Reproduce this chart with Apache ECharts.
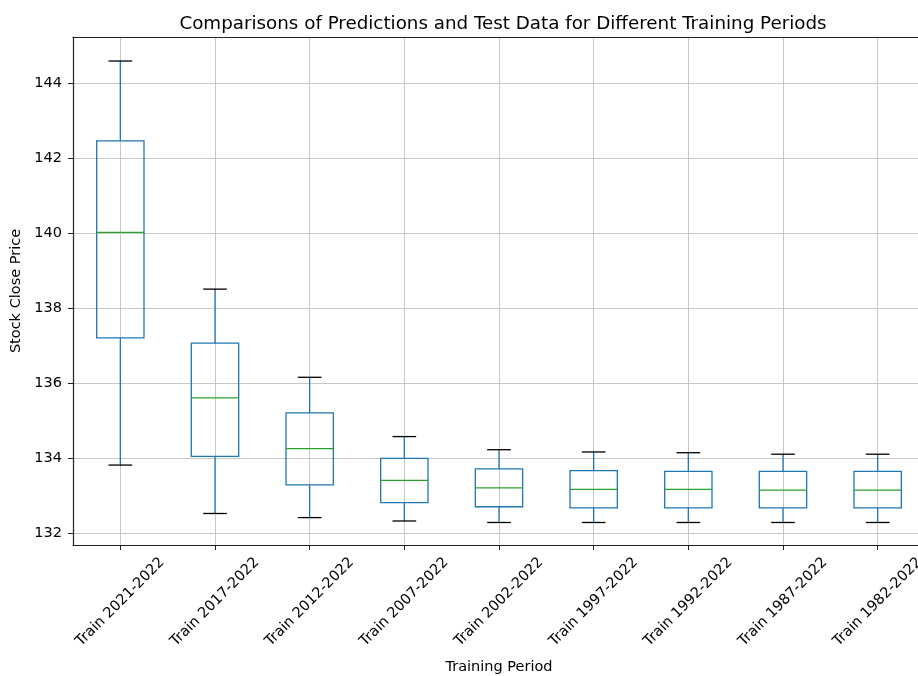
<!DOCTYPE html>
<html>
<head>
<meta charset="utf-8">
<script src="https://cdn.jsdelivr.net/npm/echarts@6/dist/echarts.min.js"></script>
<style>
html,body{margin:0;padding:0;background:#fff;}
#chart{width:918px;height:676px;}
</style>
</head>
<body>
<div id="chart"></div>
<script>
const categories = ['Train 2021-2022','Train 2017-2022','Train 2012-2022','Train 2007-2022','Train 2002-2022','Train 1997-2022','Train 1992-2022','Train 1987-2022','Train 1982-2022'];
const lowerWhisker = [133.81, 132.52, 132.41, 132.32, 132.28, 132.28, 132.28, 132.28, 132.28];
const q1Values     = [137.20, 134.04, 133.28, 132.81, 132.70, 132.67, 132.67, 132.67, 132.67];
const medianValues = [140.01, 135.60, 134.25, 133.40, 133.20, 133.16, 133.16, 133.14, 133.14];
const q3Values     = [142.45, 137.06, 135.20, 133.99, 133.71, 133.66, 133.64, 133.64, 133.64];
const upperWhisker = [144.58, 138.50, 136.15, 134.57, 134.22, 134.16, 134.14, 134.10, 134.10];
const yTickValues = [132, 134, 136, 138, 140, 142, 144];

const positions = categories.map((c, i) => i + 1);
const data = categories.map((c, i) => [positions[i], lowerWhisker[i], q1Values[i], medianValues[i], q3Values[i], upperWhisker[i]]);

const BLUE = '#1f77b4', GREEN = '#2ca02c', CAP = '#000000';
const LW = 1.3;

function renderItem(params, api) {
  const x = api.value(0);
  const lo = api.coord([x, api.value(1)]);
  const q1 = api.coord([x, api.value(2)]);
  const md = api.coord([x, api.value(3)]);
  const q3 = api.coord([x, api.value(4)]);
  const hi = api.coord([x, api.value(5)]);
  const bw = api.size([0.5, 0])[0];
  const cw = api.size([0.25, 0])[0];
  const cx = md[0];
  const line = (x1, y1, x2, y2, color) => ({
    type: 'line', shape: {x1, y1, x2, y2},
    style: {stroke: color, lineWidth: LW}
  });
  return {
    type: 'group',
    children: [
      line(cx, hi[1], cx, q3[1], BLUE),
      line(cx, q1[1], cx, lo[1], BLUE),
      {type: 'rect', shape: {x: cx - bw/2, y: q3[1], width: bw, height: q1[1] - q3[1]},
       style: {fill: 'none', stroke: BLUE, lineWidth: LW}},
      line(cx - bw/2, md[1], cx + bw/2, md[1], GREEN),
      line(cx - cw/2, hi[1], cx + cw/2, hi[1], CAP),
      line(cx - cw/2, lo[1], cx + cw/2, lo[1], CAP)
    ]
  };
}

const chart = echarts.init(document.getElementById('chart'), null, {renderer: 'canvas'});
const FONT = 'DejaVu Sans';
const FS = 14.5;
chart.setOption({
  animation: false,
  backgroundColor: '#ffffff',
  textStyle: {fontFamily: FONT},
  title: {
    text: 'Comparisons of Predictions and Test Data for Different Training Periods',
    left: 498, top: 10, textAlign: 'center',
    textStyle: {fontFamily: FONT, fontSize: 18.3, fontWeight: 'normal', color: '#000'}
  },
  grid: {
    left: 73, top: 37, right: -7, bottom: 131,
    outerBoundsMode: 'none', containLabel: false, show: false
  },
  xAxis: [{
    type: 'value', min: 0.5, max: 9.5,
    name: 'Training Period', nameLocation: 'middle', nameGap: 115,
    nameTextStyle: {fontFamily: FONT, fontSize: FS, color: '#000'},
    axisLine: {show: true, lineStyle: {color: '#222', width: 1.2}},
    axisTick: {show: true, length: 5, customValues: positions, lineStyle: {color: '#222', width: 1}},
    axisLabel: {
      customValues: positions, rotate: 45, align: 'center', verticalAlign: 'middle', margin: 57,
      fontFamily: FONT, fontSize: FS, color: '#000',
      formatter: v => categories[Math.round(v) - 1]
    },
    splitLine: {show: true, lineStyle: {color: '#c8c8c8', width: 1}}
  }, {
    type: 'value', position: 'top', min: 0.5, max: 9.5,
    axisLine: {show: true, onZero: false, lineStyle: {color: '#222', width: 1.2}},
    axisTick: {show: false}, axisLabel: {show: false}, splitLine: {show: false}
  }],
  yAxis: {
    type: 'value', min: 131.68, max: 145.22,
    name: 'Stock Close Price', nameLocation: 'middle', nameGap: 48, nameRotate: 90,
    nameTextStyle: {fontFamily: FONT, fontSize: FS, color: '#000'},
    axisLine: {show: true, lineStyle: {color: '#222', width: 1.2}},
    axisTick: {show: true, length: 5, customValues: yTickValues, lineStyle: {color: '#222', width: 1}},
    axisLabel: {customValues: yTickValues, margin: 11, fontFamily: FONT, fontSize: FS, color: '#000',
      formatter: v => String(Math.round(v))},
    splitLine: {show: true, lineStyle: {color: '#c8c8c8', width: 1}}
  },
  series: [{
    type: 'custom',
    renderItem: renderItem,
    encode: {x: 0, y: [1, 2, 3, 4, 5]},
    data: data,
    clip: false
  }]
});
</script>
</body>
</html>
